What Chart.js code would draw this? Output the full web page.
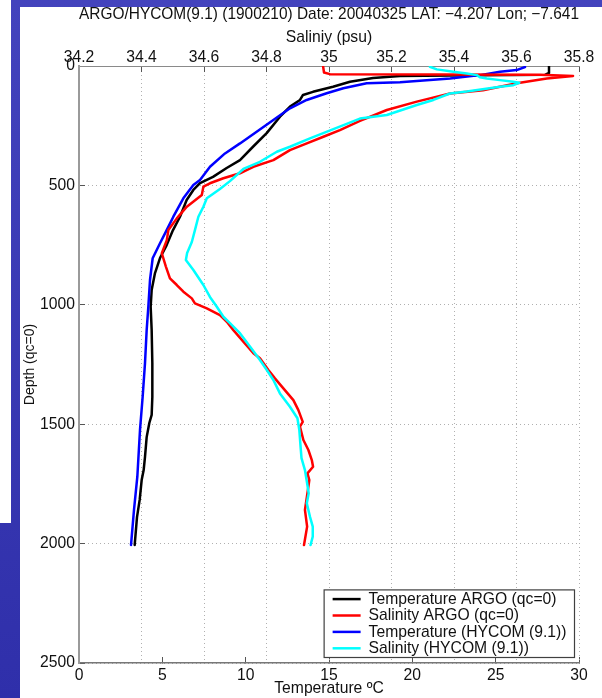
<!DOCTYPE html>
<html>
<head>
<meta charset="utf-8">
<title>ARGO / HYCOM profile 1900210</title>
<script src="https://cdn.jsdelivr.net/npm/chart.js@4/dist/chart.umd.min.js"></script>
<style>
  html, body { margin: 0; padding: 0; background: #ffffff; overflow: hidden; }
  #wrap { position: relative; width: 602px; height: 698px; }
</style>
</head>
<body>
<div id="wrap"><canvas id="profile" width="602" height="698"></canvas></div>
<script>
// Float 1900210, 2004-03-25 (LAT -4.207, LON -7.641): ARGO profile vs HYCOM 9.1

const depthTicks = [0, 500, 1000, 1500, 2000, 2500];
const temperatureTicks = [0, 5, 10, 15, 20, 25, 30];
const salinityTicks = [34.2, 34.4, 34.6, 34.8, 35, 35.2, 35.4, 35.6, 35.8];

const seriesLabels = [
  'Temperature ARGO (qc=0)',
  'Salinity ARGO (qc=0)',
  'Temperature (HYCOM (9.1))',
  'Salinity (HYCOM (9.1))'
];

// ARGO temperature (deg C) and pressure levels (m)
const argoTempDepth = [0, 29, 37, 39, 40, 42, 50, 66, 87, 108, 121, 142, 170, 212, 281, 338, 394, 427, 464, 490,
  519, 561, 631, 687, 750, 804, 867, 938, 1008, 1106, 1244, 1386, 1461, 1495, 1554, 1637, 1692, 1734, 1817, 1889, 2006];
const argoTemp = [28.20, 28.20, 27.96, 24.06, 22.26, 19.26, 17.64, 16.26, 15.24, 14.04, 13.44, 13.26, 12.66, 12.06, 11.26, 10.44, 9.66, 8.86, 8.04, 7.26,
  6.86, 6.46, 6.06, 5.64, 5.26, 4.86, 4.56, 4.36, 4.30, 4.36, 4.40, 4.40, 4.36, 4.22, 4.06, 3.96, 3.88, 3.76, 3.64, 3.48, 3.34];

// ARGO salinity (psu)
const argoSalDepth = [0, 27, 34, 36, 42, 52, 72, 101, 115, 149, 184, 230, 268, 296, 324, 352, 394, 422, 449, 470,
  491, 505, 540, 589, 638, 687, 729, 784, 840, 889, 917, 945, 973, 994, 1015, 1043, 1071, 1106, 1147, 1203,
  1224, 1273, 1308, 1350, 1399, 1441, 1490, 1510, 1566, 1608, 1650, 1678, 1706, 1734, 1789, 1859, 1929, 2006];
const argoSal = [34.981, 34.984, 35.003, 35.675, 35.781, 35.697, 35.601, 35.493, 35.387, 35.281, 35.185, 35.099, 35.035, 34.982, 34.929, 34.875, 34.822, 34.758, 34.715, 34.662,
  34.619, 34.598, 34.593, 34.545, 34.513, 34.486, 34.481, 34.465, 34.478, 34.491, 34.513, 34.534, 34.561, 34.571, 34.609, 34.651, 34.673, 34.694, 34.721, 34.758,
  34.779, 34.806, 34.827, 34.854, 34.886, 34.902, 34.916, 34.907, 34.918, 34.934, 34.945, 34.949, 34.931, 34.937, 34.931, 34.923, 34.930, 34.920];

// HYCOM 9.1 temperature at the float position
const hycomTempDepth = [4, 17, 24, 38, 52, 62, 68, 72, 93, 114, 142, 177, 226, 275, 324, 366, 422, 477, 498, 554,
  631, 687, 742, 805, 896, 1008, 1106, 1244, 1385, 1524, 1720, 1859, 2006];
const hycomTemp = [26.76, 26.26, 25.26, 24.06, 22.26, 20.46, 19.26, 17.26, 15.86, 14.86, 13.66, 12.66, 11.66, 10.66, 9.66, 8.76, 7.86, 7.26, 6.86, 6.26,
  5.66, 5.26, 4.86, 4.42, 4.26, 4.16, 4.06, 3.96, 3.82, 3.66, 3.50, 3.30, 3.12];

// HYCOM 9.1 salinity
const hycomSalDepth = [3, 14, 24, 31, 38, 47, 52, 59, 66, 70, 80, 87, 107, 115, 142, 163, 205, 220, 264, 303,
  338, 359, 401, 431, 482, 515, 554, 589, 631, 687, 737, 783, 812, 854, 917, 967, 1008, 1050, 1077, 1119,
  1175, 1231, 1273, 1315, 1371, 1427, 1475, 1524, 1594, 1642, 1692, 1747, 1789, 1831, 1887, 1929, 1971, 2006];
const hycomSal = [35.323, 35.345, 35.398, 35.441, 35.473, 35.483, 35.505, 35.547, 35.590, 35.609, 35.590, 35.547, 35.441, 35.387, 35.334, 35.281, 35.185, 35.099, 35.014, 34.939,
  34.875, 34.833, 34.779, 34.726, 34.683, 34.651, 34.609, 34.598, 34.582, 34.571, 34.561, 34.546, 34.542, 34.566, 34.598, 34.619, 34.641, 34.662, 34.683, 34.715,
  34.747, 34.779, 34.801, 34.822, 34.843, 34.875, 34.899, 34.905, 34.909, 34.912, 34.923, 34.930, 34.935, 34.929, 34.939, 34.948, 34.948, 34.941];

const FONT = "'Liberation Sans', Arial, Helvetica, sans-serif";
const FONT_SIZE = 15.7;
const TEXT = '#111111';
const GRID = '#b0b0b0';
const TICK = '#555555';

Chart.defaults.font.family = FONT;
Chart.defaults.font.size = FONT_SIZE;
Chart.defaults.color = TEXT;

function profile(values, depths) {
  return values.map((v, i) => ({ x: v, y: depths[i] }));
}

function line(label, values, depths, color, axis, order) {
  return {
    label,
    data: profile(values, depths),
    borderColor: color,
    backgroundColor: color,
    borderWidth: 2.5,
    borderJoinStyle: 'round',
    borderCapStyle: 'round',
    showLine: true,
    pointRadius: 0,
    fill: false,
    tension: 0,
    xAxisID: axis,
    yAxisID: 'y',
    order
  };
}

const fixedTicks = list => scale => { scale.ticks = list.map(v => ({ value: v })); };
const plainLabel = v => String(v);

// slide backdrop behind the figure
const slideBackground = {
  id: 'slideBackground',
  beforeDraw(chart) {
    const { ctx, width, height } = chart;
    ctx.save();
    ctx.fillStyle = '#ffffff';
    ctx.fillRect(0, 0, width, height);
    const g = ctx.createLinearGradient(0, 0, 0, height);
    g.addColorStop(0, '#4343bd');
    g.addColorStop(1, '#2f2faa');
    ctx.fillStyle = g;
    ctx.fillRect(11, 0, width - 11, 7);
    ctx.fillRect(11, 0, 9, height);
    ctx.fillRect(0, 523, 20, height - 523);
    ctx.restore();
  }
};

// boxed legend in the lower right corner of the plot
const boxLegend = {
  id: 'boxLegend',
  afterDraw(chart) {
    const { ctx, chartArea } = chart;
    const sets = chart.data.datasets;
    ctx.save();
    ctx.font = FONT_SIZE + 'px ' + FONT;
    const rowH = 16.4, pad = 1, lineX = 8.5, lineLen = 28, textX = 44.5;
    const textW = Math.max(...sets.map(d => ctx.measureText(d.label).width));
    const w = textX + textW + 8;
    const h = 2 * pad + rowH * sets.length;
    const right = chartArea.right - 4.5;
    const bottom = chartArea.bottom - 5.5;
    const left = right - w, top = bottom - h;
    ctx.fillStyle = '#ffffff';
    ctx.fillRect(left, top, w, h);
    ctx.strokeStyle = '#404040';
    ctx.lineWidth = 1.2;
    ctx.strokeRect(left, top, w, h);
    sets.forEach((d, i) => {
      const cy = top + pad + rowH * (i + 0.5);
      ctx.strokeStyle = d.borderColor;
      ctx.lineWidth = 2.5;
      ctx.beginPath();
      ctx.moveTo(left + lineX, cy);
      ctx.lineTo(left + lineX + lineLen, cy);
      ctx.stroke();
      ctx.fillStyle = TEXT;
      ctx.textAlign = 'left';
      ctx.textBaseline = 'middle';
      ctx.fillText(d.label, left + textX, cy + 0.5);
    });
    ctx.restore();
  }
};

new Chart(document.getElementById('profile'), {
  type: 'scatter',
  data: {
    datasets: [
      line(seriesLabels[0], argoTemp, argoTempDepth, '#000000', 'x', 4),
      line(seriesLabels[1], argoSal, argoSalDepth, '#ff0000', 'x2', 2),
      line(seriesLabels[2], hycomTemp, hycomTempDepth, '#0000ff', 'x', 3),
      line(seriesLabels[3], hycomSal, hycomSalDepth, '#00ffff', 'x2', 1)
    ]
  },
  options: {
    responsive: false,
    animation: false,
    devicePixelRatio: 1,
    events: [],
    layout: { padding: { left: 0, right: 23, top: 0, bottom: 0 } },
    plugins: {
      legend: { display: false },
      tooltip: { enabled: false },
      title: {
        display: true,
        fullSize: false,
        text: 'ARGO/HYCOM(9.1) (1900210) Date: 20040325 LAT: \u22124.207 Lon; \u22127.641',
        font: { size: FONT_SIZE, weight: 'normal' },
        color: TEXT,
        padding: { top: 5, bottom: 0 }
      }
    },
    scales: {
      x: {
        type: 'linear',
        position: 'bottom',
        min: 0,
        max: 30,
        afterBuildTicks: fixedTicks(temperatureTicks),
        afterFit: s => { s.height = 35; },
        ticks: { callback: plainLabel, padding: 9.4, maxRotation: 0, autoSkip: false, color: TEXT },
        grid: { drawOnChartArea: false, drawTicks: true, tickLength: -6, tickColor: TICK, tickWidth: 1 },
        border: { display: true, color: '#777777', width: 1.5 },
        title: { display: true, text: 'Temperature \u00baC', color: TEXT, padding: { top: 0, bottom: 0 } }
      },
      x2: {
        type: 'linear',
        position: 'top',
        min: 34.2,
        max: 35.8,
        afterBuildTicks: fixedTicks(salinityTicks),
        afterFit: s => { s.height = 42.2; },
        ticks: { callback: plainLabel, padding: 5.1, maxRotation: 0, autoSkip: false, color: TEXT },
        grid: { drawOnChartArea: true, color: GRID, lineWidth: 1, drawTicks: true, tickLength: -6, tickColor: TICK, tickWidth: 1 },
        border: { display: true, color: '#8a8a8a', width: 1, dash: [1, 3] },
        title: { display: true, text: 'Saliniy (psu)', color: TEXT, padding: { top: 4.2, bottom: 0 } }
      },
      y: {
        type: 'linear',
        position: 'left',
        reverse: true,
        min: 0,
        max: 2500,
        afterBuildTicks: fixedTicks(depthTicks),
        afterFit: s => { s.width = 79; },
        ticks: { callback: plainLabel, padding: 10, autoSkip: false, color: TEXT },
        grid: { drawOnChartArea: true, color: GRID, lineWidth: 1, drawTicks: true, tickLength: -6, tickColor: TICK, tickWidth: 1 },
        border: { display: true, color: '#9a9a9a', width: 2, dash: [1, 3] },
        title: { display: true, text: 'Depth (qc=0)', color: TEXT, font: { size: 14 }, padding: { top: 22, bottom: 0 } }
      }
    }
  },
  plugins: [slideBackground, boxLegend]
});
</script>
</body>
</html>
